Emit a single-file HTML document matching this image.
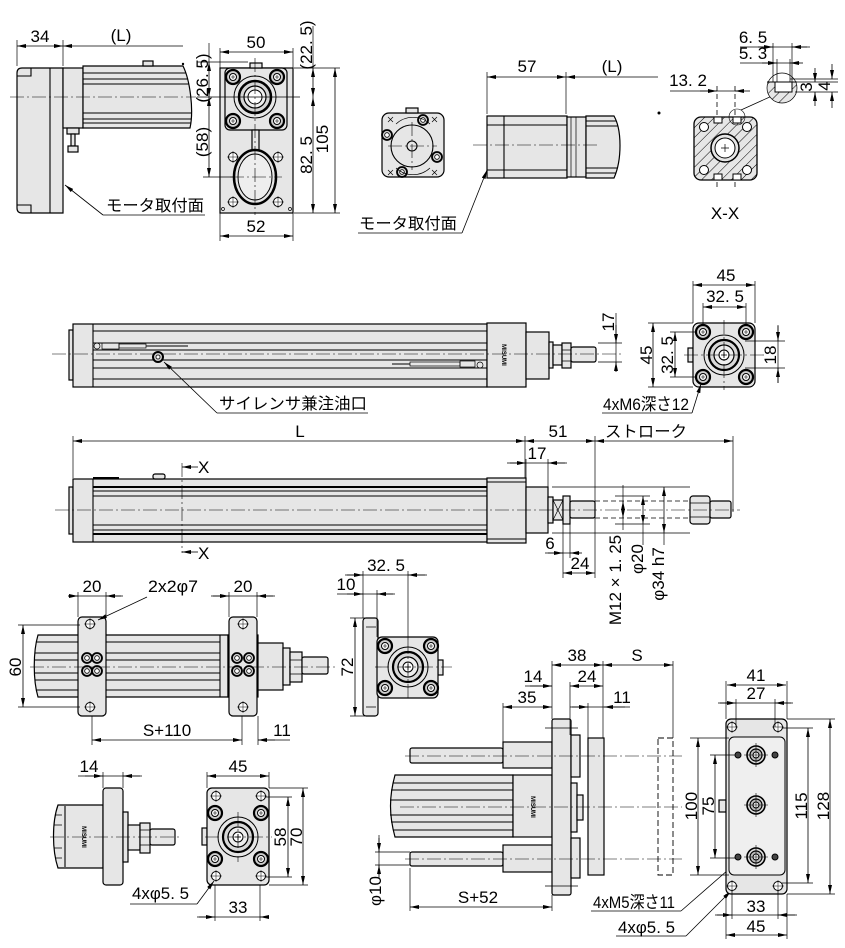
<!DOCTYPE html>
<html><head><meta charset="utf-8"><style>
html,body{margin:0;padding:0;background:#fff;}
svg{display:block;}
text{font-family:"Liberation Sans","Noto Sans CJK JP",sans-serif;font-size:17px;fill:#000;stroke:none;}
.j{font-size:16px;}
.mi{font-size:6px;font-weight:bold;}
.o{stroke:#000;stroke-width:1.2;fill:#e6e6e6;}
.l{stroke:#000;stroke-width:1.1;fill:none;}
.t{stroke:#000;stroke-width:.7;fill:none;}
.e{stroke:#000;stroke-width:.7;fill:none;}
.c{stroke:#000;stroke-width:.6;fill:none;stroke-dasharray:14 3 2 3;}
.dd{stroke:#000;stroke-width:.8;fill:none;stroke-dasharray:5 3;}
.d{stroke:#000;stroke-width:.8;fill:none;marker-start:url(#a);marker-end:url(#a);}
.m{stroke:#000;stroke-width:.8;fill:none;marker-end:url(#a);}
.s{stroke:#000;stroke-width:.8;fill:none;marker-start:url(#a);}
</style></head><body>
<svg width="845" height="948" viewBox="0 0 845 948" xmlns="http://www.w3.org/2000/svg">
<defs>
<marker id="a" viewBox="0 0 9 4" refX="9" refY="2" markerWidth="9" markerHeight="4" markerUnits="userSpaceOnUse" orient="auto-start-reverse"><path d="M0,0L9,2L0,4z" fill="#000"/></marker>
<pattern id="h" width="7" height="7" patternUnits="userSpaceOnUse" patternTransform="rotate(45)"><rect width="7" height="7" fill="#e6e6e6"/><line x1="0" y1="0" x2="0" y2="7" stroke="#000" stroke-width="1"/></pattern>
<g id="bolt"><circle r="7" fill="#cfcfcf" stroke="#000" stroke-width="2.2"/><circle r="3.5" fill="#fff" stroke="#000" stroke-width="1"/><path d="M-2,0H2M0,-2V2" stroke="#000" stroke-width=".6"/></g>
<g id="sbolt"><circle r="5" fill="#cfcfcf" stroke="#000" stroke-width="1.8"/><circle r="2.3" fill="#fff" stroke="#000" stroke-width=".8"/></g>
<g id="hole"><circle r="4.5" fill="#fff" stroke="#000" stroke-width="1"/><path d="M-6,0H6M0,-6V6" stroke="#000" stroke-width=".5"/></g>
<g id="dot"><circle r="3" fill="#444" stroke="#000" stroke-width="1"/></g>
<g id="bush"><circle r="9" fill="#ddd" stroke="#000" stroke-width="1.6"/><circle r="6" fill="#bbb" stroke="#000" stroke-width="1.2"/><circle r="3" fill="#fff" stroke="#000" stroke-width="1"/><path d="M-12,0H12M0,-12V12" stroke="#000" stroke-width=".6"/></g>
<g id="hub"><circle r="20" fill="#e6e6e6" stroke="#000" stroke-width="1"/><circle r="15" fill="#d8d8d8" stroke="#000" stroke-width="2.2"/><circle r="10" fill="#eee" stroke="#000" stroke-width="1.2"/><circle r="5" fill="#fff" stroke="#000" stroke-width="1"/><path d="M-3,0H3M0,-3V3" stroke="#000" stroke-width=".8"/></g>
<clipPath id="dc"><circle cx="782" cy="88" r="15"/></clipPath>
</defs>

<!-- ===== Section 1: motor side view ===== -->
<path class="o" d="M22,68H63V213H22Q17,213 17,208V73Q17,68 22,68Z"/>
<line class="l" x1="50" y1="68" x2="50" y2="213"/>
<path class="l" d="M17,76H31V68M17,205H31V213"/>
<rect class="o" x="63" y="68" width="20" height="60"/>
<path class="o" d="M83,66H183C190,80 194,110 190,128H83Z"/>
<path class="l" d="M83,73H186M83,79H188M83,84H189M83,113H192M83,119H191M83,123H191"/>
<rect class="o" x="143" y="61" width="10" height="5"/>
<circle cx="183" cy="64" r="1.2" fill="#000"/>
<rect class="o" x="67" y="128" width="12" height="6"/>
<rect class="o" x="71" y="134" width="4" height="12"/>
<rect class="o" x="68" y="146" width="10" height="6"/>
<line class="c" x1="10" y1="97" x2="196" y2="97"/>
<line class="e" x1="17" y1="40" x2="17" y2="66"/>
<line class="e" x1="63" y1="40" x2="63" y2="66"/>
<line class="d" x1="17" y1="46" x2="63" y2="46"/>
<line class="s" x1="63" y1="46" x2="183" y2="46"/>
<text x="40" y="42" text-anchor="middle">34</text>
<text x="121" y="41" text-anchor="middle">(L)</text>
<line class="s" x1="65" y1="185" x2="103" y2="215"/>
<line class="t" x1="103" y1="215" x2="205" y2="215"/>
<text class="j" x="106" y="211" textLength="98" lengthAdjust="spacingAndGlyphs">モータ取付面</text>

<!-- ===== Section 2: motor front plate ===== -->
<rect class="o" x="220" y="68" width="73" height="145"/>
<rect class="o" x="225" y="68" width="62" height="62" rx="5"/>
<rect class="o" x="250" y="63" width="12" height="5"/>
<circle cx="255" cy="97" r="21" fill="#e6e6e6" stroke="#000" stroke-width="1"/>
<circle cx="255" cy="97" r="16" fill="#d5d5d5" stroke="#000" stroke-width="2.5"/>
<circle cx="255" cy="97" r="11" fill="#eee" stroke="#000" stroke-width="1.2"/>
<circle cx="255" cy="97" r="7" fill="#fff" stroke="#000" stroke-width="1"/>
<use href="#bolt" x="233" y="77"/><use href="#bolt" x="277" y="77"/>
<use href="#bolt" x="233" y="121"/><use href="#bolt" x="277" y="121"/>
<rect class="o" x="252" y="130" width="7" height="20"/>
<ellipse cx="255" cy="177" rx="21" ry="27" fill="#e6e6e6" stroke="#000" stroke-width="2.5"/>
<ellipse cx="255" cy="177" rx="17" ry="23" fill="#eee" stroke="#000" stroke-width="1"/>
<use href="#hole" x="233" y="157"/><use href="#hole" x="278" y="157"/>
<use href="#hole" x="233" y="202"/><use href="#hole" x="278" y="202"/>
<circle class="t" cx="223" cy="209" r="1.5"/><circle class="t" cx="290" cy="209" r="1.5"/>
<line class="c" x1="255" y1="58" x2="255" y2="215"/>
<line class="c" x1="230" y1="177" x2="282" y2="177"/>
<line class="e" x1="197" y1="62" x2="248" y2="62"/>
<line class="e" x1="197" y1="97" x2="300" y2="97"/>
<line class="e" x1="203" y1="177" x2="235" y2="177"/>
<line class="t" x1="209" y1="43" x2="209" y2="62"/>
<line class="d" x1="209" y1="62" x2="209" y2="97"/>
<line class="d" x1="209" y1="97" x2="209" y2="177"/>
<text transform="translate(208,78) rotate(-90)" text-anchor="middle">(26. 5)</text>
<text transform="translate(208,142) rotate(-90)" text-anchor="middle">(58)</text>
<line class="e" x1="220" y1="48" x2="220" y2="68"/><line class="e" x1="293" y1="48" x2="293" y2="68"/>
<line class="d" x1="220" y1="52" x2="293" y2="52"/>
<text x="256" y="48" text-anchor="middle">50</text>
<line class="e" x1="220" y1="213" x2="220" y2="241"/><line class="e" x1="293" y1="213" x2="293" y2="241"/>
<line class="d" x1="220" y1="236" x2="293" y2="236"/>
<text x="256" y="232" text-anchor="middle">52</text>
<line class="e" x1="294" y1="68" x2="340" y2="68"/>
<line class="e" x1="294" y1="213" x2="340" y2="213"/>
<line class="t" x1="313" y1="26" x2="313" y2="68"/>
<line class="d" x1="313" y1="68" x2="313" y2="97"/>
<line class="d" x1="313" y1="97" x2="313" y2="213"/>
<line class="d" x1="335" y1="68" x2="335" y2="213"/>
<text transform="translate(312,45) rotate(-90)" text-anchor="middle">(22. 5)</text>
<text transform="translate(312,155) rotate(-90)" text-anchor="middle">82. 5</text>
<text transform="translate(328,139) rotate(-90)" text-anchor="middle">105</text>

<!-- ===== Section 3: motor end view ===== -->
<rect class="o" x="382" y="113" width="62" height="64" rx="7"/>
<rect class="o" x="406" y="108" width="12" height="5"/>
<circle class="l" cx="412" cy="146" r="21"/>
<circle class="l" cx="412" cy="146" r="5"/>
<line class="c" x1="388" y1="146" x2="437" y2="146"/>
<line class="c" x1="412" y1="122" x2="412" y2="170"/>
<use href="#sbolt" x="387" y="135"/><use href="#sbolt" x="423" y="120"/>
<use href="#sbolt" x="437" y="157"/><use href="#sbolt" x="402" y="172"/>
<path class="t" d="M388,117l5,5M393,117l-5,5M432,117l5,5M437,117l-5,5M388,170l5,5M393,170l-5,5M432,170l5,5M437,170l-5,5"/>
<path class="t" d="M396,124A25,25 0 0 1 430,124M430,168A25,25 0 0 1 396,168"/>

<!-- ===== Section 4: motor side right ===== -->
<rect class="o" x="487" y="116" width="80" height="62"/>
<path class="l" d="M504,116V178M487,125H567M487,170H567"/>
<rect class="o" x="567" y="117" width="19" height="60"/>
<path class="o" d="M586,116H614C622,130 622,160 614,178H586Z"/>
<path class="l" d="M586,121H616M586,126H618M586,168H618M586,173H616"/>
<path class="t" d="M571,117V177M576,117V177"/>
<line class="c" x1="473" y1="145" x2="600" y2="145"/>
<circle cx="659" cy="113" r="1.5" fill="#000"/>
<line class="e" x1="487" y1="72" x2="487" y2="114"/>
<line class="e" x1="566" y1="72" x2="566" y2="114"/>
<line class="d" x1="487" y1="77" x2="566" y2="77"/>
<line class="s" x1="566" y1="77" x2="658" y2="77"/>
<text x="527" y="72" text-anchor="middle">57</text>
<text x="612" y="72" text-anchor="middle">(L)</text>
<line class="s" x1="487" y1="170" x2="462" y2="233"/>
<line class="t" x1="358" y1="233" x2="462" y2="233"/>
<text class="j" x="359" y="229" textLength="98" lengthAdjust="spacingAndGlyphs">モータ取付面</text>

<!-- ===== Section 5: X-X ===== -->
<rect x="694" y="117" width="63" height="63" rx="7" fill="url(#h)" stroke="#000" stroke-width="1.3"/>
<circle cx="725" cy="148" r="14" fill="#e6e6e6" stroke="#000" stroke-width="1.5"/>
<circle cx="725" cy="148" r="10" fill="#fff" stroke="#000" stroke-width="1"/>
<path class="t" d="M721,148H729M725,144V152"/>
<circle cx="704" cy="127" r="4.5" fill="#fff" stroke="#000"/><circle cx="747" cy="127" r="4.5" fill="#fff" stroke="#000"/>
<circle cx="704" cy="170" r="4.5" fill="#fff" stroke="#000"/><circle cx="747" cy="170" r="4.5" fill="#fff" stroke="#000"/>
<rect x="714" y="117" width="8" height="6" fill="#fff" stroke="#000"/><rect x="733" y="117" width="8" height="6" fill="#fff" stroke="#000"/>
<rect x="714" y="174" width="8" height="6" fill="#fff" stroke="#000"/><rect x="733" y="174" width="8" height="6" fill="#fff" stroke="#000"/>
<circle cx="737" cy="117" r="8" fill="none" stroke="#000" stroke-width=".6"/>
<line class="t" x1="741" y1="110" x2="772" y2="96"/>
<g clip-path="url(#dc)"><rect x="767" y="82" width="31" height="25" fill="url(#h)"/><rect x="775" y="82" width="17" height="10" fill="#fff" stroke="#000"/></g>
<circle cx="782" cy="88" r="15" fill="none" stroke="#000" stroke-width=".7"/>
<line class="l" x1="767" y1="82" x2="797" y2="82"/>
<path class="dd" d="M717,86V115M735,86V115M717,182V190M735,182V190"/>
<line class="t" x1="670" y1="91" x2="743" y2="91"/>
<line class="m" x1="700" y1="91" x2="717" y2="91"/>
<line class="m" x1="750" y1="91" x2="735" y2="91"/>
<text x="688" y="86" text-anchor="middle">13. 2</text>
<path class="e" d="M773,43V82M792,43V82M777,59V82M790,59V82"/>
<line class="t" x1="740" y1="47" x2="810" y2="47"/>
<line class="m" x1="758" y1="47" x2="773" y2="47"/>
<line class="m" x1="807" y1="47" x2="792" y2="47"/>
<line class="t" x1="740" y1="63" x2="800" y2="63"/>
<line class="m" x1="762" y1="63" x2="777" y2="63"/>
<line class="m" x1="803" y1="63" x2="790" y2="63"/>
<text x="753" y="43" text-anchor="middle">6. 5</text>
<text x="753" y="59" text-anchor="middle">5. 3</text>
<path class="e" d="M795,82H838M795,92H838M790,79H838"/>
<line class="m" x1="815" y1="68" x2="815" y2="82"/>
<line class="m" x1="815" y1="106" x2="815" y2="92"/>
<line class="m" x1="832" y1="64" x2="832" y2="79"/>
<line class="m" x1="832" y1="108" x2="832" y2="92"/>
<text transform="translate(812,87) rotate(-90)" text-anchor="middle">3</text>
<text transform="translate(830,86) rotate(-90)" text-anchor="middle">4</text>
<text x="725" y="219" text-anchor="middle">X-X</text>

<!-- ===== Section 6: middle actuator ===== -->
<rect class="o" x="69" y="330" width="4" height="50"/>
<rect class="o" x="73" y="324" width="414" height="63"/>
<line class="l" x1="93" y1="324" x2="93" y2="387"/>
<path class="l" d="M93,331H487M93,343H487M93,350H487M93,360H487M93,368H487M93,379H487"/>
<rect class="o" x="487" y="323" width="39" height="64"/>
<text class="mi" transform="translate(502,355) rotate(90)" text-anchor="middle">MISUMI</text>
<rect class="o" x="526" y="332" width="23" height="47"/>
<rect class="o" x="549" y="342" width="4" height="26"/>
<rect class="o" x="553" y="345" width="9" height="20"/>
<rect class="o" x="562" y="343" width="9" height="25"/>
<path class="t" d="M562,350H571M562,361H571"/>
<rect class="o" x="571" y="347" width="25" height="15" rx="2"/>
<line class="c" x1="52" y1="354" x2="622" y2="354"/>
<circle cx="158" cy="357" r="5" fill="#ccc" stroke="#000" stroke-width="2"/>
<circle cx="158" cy="357" r="2" fill="#fff" stroke="#000" stroke-width=".8"/>
<circle class="t" cx="97" cy="346" r="3"/>
<rect class="t" x="102" y="343" width="17" height="6"/>
<rect class="t" x="119" y="344" width="27" height="4"/>
<line class="l" x1="146" y1="346" x2="188" y2="346"/>
<line class="l" x1="392" y1="364" x2="410" y2="364"/>
<rect class="t" x="410" y="362" width="50" height="4"/>
<rect class="t" x="460" y="361" width="15" height="6"/>
<circle class="t" cx="480" cy="365" r="3"/>
<line class="s" x1="164" y1="362" x2="217" y2="413"/>
<line class="t" x1="217" y1="413" x2="368" y2="413"/>
<text class="j" x="219" y="409" textLength="148" lengthAdjust="spacingAndGlyphs">サイレンサ兼注油口</text>
<path class="e" d="M598,343H622M598,362H622"/>
<line class="t" x1="616" y1="313" x2="616" y2="366"/>
<line class="m" x1="616" y1="325" x2="616" y2="343"/>
<line class="m" x1="616" y1="372" x2="616" y2="362"/>
<text transform="translate(614,322) rotate(-90)" text-anchor="middle">17</text>

<!-- side square -->
<rect class="o" x="688" y="348" width="5" height="14"/>
<rect class="o" x="693" y="323" width="62" height="64" rx="6"/>
<use href="#hub" x="724" y="355"/>
<line class="c" x1="724" y1="320" x2="724" y2="390"/>
<line class="c" x1="684" y1="355" x2="766" y2="355"/>
<use href="#bolt" x="703" y="332"/><use href="#bolt" x="746" y="332"/>
<use href="#bolt" x="703" y="377"/><use href="#bolt" x="746" y="377"/>
<path class="e" d="M693,281V323M755,281V323M703,303V325M746,303V325"/>
<line class="d" x1="693" y1="285" x2="755" y2="285"/>
<line class="d" x1="703" y1="307" x2="746" y2="307"/>
<text x="726" y="281" text-anchor="middle">45</text>
<text x="725" y="302" text-anchor="middle">32. 5</text>
<path class="e" d="M648,323H693M648,387H693M670,332H697M670,377H697"/>
<line class="d" x1="653" y1="323" x2="653" y2="387"/>
<line class="d" x1="675" y1="332" x2="675" y2="377"/>
<text transform="translate(652,355) rotate(-90)" text-anchor="middle">45</text>
<text transform="translate(673,355) rotate(-90)" text-anchor="middle">32. 5</text>
<path class="e" d="M745,341H785M745,368H785"/>
<line class="t" x1="778" y1="325" x2="778" y2="383"/>
<line class="m" x1="778" y1="326" x2="778" y2="341"/>
<line class="m" x1="778" y1="383" x2="778" y2="368"/>
<text transform="translate(776,355) rotate(-90)" text-anchor="middle">18</text>
<line class="s" x1="701" y1="384" x2="692" y2="413"/>
<line class="t" x1="602" y1="413" x2="692" y2="413"/>
<text x="603" y="410" textLength="86" lengthAdjust="spacingAndGlyphs">4xM6深さ12</text>

<!-- ===== Section 7: bottom actuator ===== -->
<line class="e" x1="73" y1="436" x2="73" y2="478"/>
<line class="e" x1="525" y1="436" x2="525" y2="478"/>
<line class="e" x1="595" y1="436" x2="595" y2="578"/>
<line class="e" x1="733" y1="436" x2="733" y2="512"/>
<line class="d" x1="73" y1="441" x2="525" y2="441"/>
<line class="d" x1="525" y1="441" x2="595" y2="441"/>
<line class="d" x1="595" y1="441" x2="733" y2="441"/>
<text x="300" y="437" text-anchor="middle">L</text>
<text x="558" y="437" text-anchor="middle">51</text>
<text class="j" x="605" y="437" textLength="82" lengthAdjust="spacingAndGlyphs">ストローク</text>
<rect class="o" x="69" y="487" width="4" height="47"/>
<rect class="o" x="73" y="479" width="414" height="63"/>
<line class="l" x1="93" y1="479" x2="93" y2="542"/>
<path class="l" d="M93,487H487M93,491H487M93,496H487M93,525H487M93,530H487M93,534H487"/>
<path d="M93,487H487M93,534H487" stroke="#000" stroke-width="2"/>
<rect class="o" x="153" y="474" width="12" height="5" rx="2"/>
<line x1="93" y1="478" x2="119" y2="478" stroke="#000" stroke-width="2"/>
<rect class="o" x="487" y="478" width="39" height="65"/>
<path class="l" d="M487,482H526M487,539H526"/>
<rect class="o" x="526" y="487" width="22" height="46"/>
<rect class="o" x="548" y="497" width="5" height="26"/>
<rect class="o" x="553" y="500" width="10" height="20"/>
<path class="t" d="M553,500L563,520M563,500L553,520"/>
<rect class="o" x="563" y="496" width="7" height="28"/>
<rect class="o" x="570" y="501" width="25" height="17" rx="2"/>
<path class="t" d="M552,487H690M552,533H690"/>
<path class="dd" d="M595,501H690M595,518H690"/>
<rect class="o" x="690" y="496" width="20" height="28" rx="3"/>
<path class="t" d="M690,503H710M690,517H710"/>
<rect class="o" x="710" y="501" width="21" height="17" rx="2"/>
<line class="c" x1="55" y1="510" x2="740" y2="510"/>
<line class="c" x1="182" y1="463" x2="182" y2="553"/>
<line class="m" x1="198" y1="467" x2="182" y2="467"/>
<line class="m" x1="198" y1="552" x2="182" y2="552"/>
<text x="198" y="473">X</text>
<text x="198" y="559">X</text>
<path class="e" d="M526,459V478M548,459V487"/>
<line class="t" x1="507" y1="463" x2="567" y2="463"/>
<line class="m" x1="510" y1="463" x2="526" y2="463"/>
<line class="m" x1="565" y1="463" x2="548" y2="463"/>
<text x="537" y="459" text-anchor="middle">17</text>
<path class="e" d="M563,524V578M570,524V558"/>
<line class="t" x1="545" y1="553" x2="580" y2="553"/>
<line class="m" x1="548" y1="553" x2="563" y2="553"/>
<line class="m" x1="582" y1="553" x2="570" y2="553"/>
<text x="550" y="549" text-anchor="middle">6</text>
<line class="d" x1="563" y1="573" x2="595" y2="573"/>
<text x="580" y="569" text-anchor="middle">24</text>
<line class="d" x1="623" y1="501" x2="623" y2="518"/>
<line class="t" x1="623" y1="485" x2="623" y2="530"/>
<line class="d" x1="643" y1="496" x2="643" y2="524"/>
<line class="t" x1="643" y1="524" x2="643" y2="545"/>
<line class="d" x1="664" y1="487" x2="664" y2="533"/>
<line class="t" x1="664" y1="533" x2="664" y2="545"/>
<path class="e" d="M615,496H650M615,524H650"/>
<text transform="translate(621,580) rotate(-90)" text-anchor="middle">M12 × 1. 25</text>
<text transform="translate(643,559) rotate(-90)" text-anchor="middle">φ20</text>
<text transform="translate(664,574) rotate(-90)" text-anchor="middle">φ34 h7</text>

<!-- ===== Section 8: foot mount ===== -->
<path class="o" d="M38,635H228V697H38C33,680 33,652 38,635Z"/>
<path class="l" d="M36,642H220M35,653H220M35,660H220M35,673H220M35,680H220M36,690H220M220,635V697"/>
<rect class="o" x="228" y="635" width="30" height="62"/>
<rect class="o" x="258" y="643" width="25" height="47"/>
<rect class="o" x="283" y="648" width="7" height="37"/>
<rect class="o" x="290" y="652" width="12" height="30"/>
<path class="t" d="M290,660H302M290,674H302"/>
<rect class="o" x="302" y="657" width="26" height="17" rx="2"/>
<rect class="o" x="78" y="617" width="28" height="99" rx="4"/>
<rect class="o" x="229" y="617" width="28" height="99" rx="4"/>
<use href="#hole" x="90" y="624"/><use href="#hole" x="90" y="707"/>
<use href="#hole" x="243" y="624"/><use href="#hole" x="243" y="707"/>
<use href="#sbolt" x="87" y="658"/><use href="#sbolt" x="97" y="658"/>
<use href="#sbolt" x="87" y="671"/><use href="#sbolt" x="97" y="671"/>
<use href="#sbolt" x="237" y="658"/><use href="#sbolt" x="249" y="658"/>
<use href="#sbolt" x="237" y="671"/><use href="#sbolt" x="249" y="671"/>
<line class="c" x1="30" y1="667" x2="335" y2="667"/>
<path class="e" d="M78,592V617M106,592V617M229,592V617M257,592V617"/>
<line class="t" x1="68" y1="596" x2="123" y2="596"/>
<line class="m" x1="68" y1="596" x2="78" y2="596"/>
<line class="m" x1="121" y1="596" x2="106" y2="596"/>
<line class="t" x1="211" y1="596" x2="275" y2="596"/>
<line class="m" x1="213" y1="596" x2="229" y2="596"/>
<line class="m" x1="273" y1="596" x2="257" y2="596"/>
<text x="92" y="592" text-anchor="middle">20</text>
<text x="243" y="592" text-anchor="middle">20</text>
<text x="148" y="592" textLength="50" lengthAdjust="spacingAndGlyphs">2x2φ7</text>
<line class="m" x1="147" y1="597" x2="98" y2="620"/>
<path class="e" d="M18,625H80M18,707H80"/>
<line class="d" x1="23" y1="625" x2="23" y2="707"/>
<text transform="translate(21,667) rotate(-90)" text-anchor="middle">60</text>
<path class="e" d="M92,716V745M242,716V745M258,716V745"/>
<line class="d" x1="92" y1="740" x2="242" y2="740"/>
<line class="t" x1="258" y1="740" x2="290" y2="740"/>
<line class="m" x1="275" y1="740" x2="258" y2="740"/>
<text x="167" y="736" text-anchor="middle">S+110</text>
<text x="282" y="736" text-anchor="middle">11</text>

<!-- foot side view -->
<rect class="o" x="363" y="618" width="15" height="98" rx="3"/>
<path class="t" d="M366,627H376M366,707H376"/>
<rect class="o" x="438" y="660" width="5" height="15"/>
<rect class="o" x="377" y="637" width="61" height="61" rx="5"/>
<use href="#hub" x="408" y="667"/>
<line class="c" x1="408" y1="640" x2="408" y2="700"/>
<line class="c" x1="375" y1="667" x2="452" y2="667"/>
<use href="#bolt" x="385" y="646"/><use href="#bolt" x="431" y="646"/>
<use href="#bolt" x="385" y="688"/><use href="#bolt" x="431" y="688"/>
<path class="e" d="M363,571V618M408,571V640M377,590V637"/>
<line class="t" x1="345" y1="575" x2="427" y2="575"/>
<line class="m" x1="347" y1="575" x2="363" y2="575"/>
<line class="m" x1="425" y1="575" x2="408" y2="575"/>
<text x="386" y="571" text-anchor="middle">32. 5</text>
<line class="t" x1="337" y1="594" x2="395" y2="594"/>
<line class="m" x1="347" y1="594" x2="363" y2="594"/>
<line class="m" x1="393" y1="594" x2="377" y2="594"/>
<text x="346" y="590" text-anchor="middle">10</text>
<path class="e" d="M350,618H365M350,716H365"/>
<line class="d" x1="355" y1="618" x2="355" y2="716"/>
<text transform="translate(353,667) rotate(-90)" text-anchor="middle">72</text>

<!-- ===== Section 9: flange mount ===== -->
<path class="e" d="M103,772V788M123,772V788"/>
<line class="t" x1="78" y1="776" x2="142" y2="776"/>
<line class="m" x1="85" y1="776" x2="103" y2="776"/>
<line class="m" x1="140" y1="776" x2="123" y2="776"/>
<text x="89" y="772" text-anchor="middle">14</text>
<path class="o" d="M58,805H103V868H58C52,850 52,822 58,805Z"/>
<line class="l" x1="65" y1="806" x2="65" y2="867"/>
<path class="t" d="M55,815H62M54,825H62M54,848H62M55,858H62"/>
<text class="mi" transform="translate(82,837) rotate(90)" text-anchor="middle">MISUMI</text>
<rect class="o" x="103" y="788" width="20" height="97" rx="3"/>
<rect class="o" x="123" y="812" width="5" height="50"/>
<rect class="o" x="128" y="825" width="12" height="25"/>
<rect class="o" x="140" y="823" width="10" height="30"/>
<path class="t" d="M140,830H150M140,845H150"/>
<rect class="o" x="150" y="829" width="25" height="16" rx="2"/>
<line class="c" x1="50" y1="837" x2="182" y2="837"/>

<rect class="o" x="202" y="828" width="5" height="17"/>
<rect class="o" x="207" y="788" width="62" height="97" rx="5"/>
<use href="#hub" x="238" y="837"/>
<line class="c" x1="238" y1="812" x2="238" y2="862"/>
<line class="c" x1="205" y1="837" x2="272" y2="837"/>
<use href="#bolt" x="215" y="813"/><use href="#bolt" x="261" y="813"/>
<use href="#bolt" x="215" y="859"/><use href="#bolt" x="261" y="859"/>
<use href="#hole" x="216" y="796"/><use href="#hole" x="261" y="796"/>
<use href="#hole" x="216" y="876"/><use href="#hole" x="261" y="876"/>
<path class="e" d="M207,772V788M269,772V788"/>
<line class="d" x1="207" y1="776" x2="269" y2="776"/>
<text x="238" y="772" text-anchor="middle">45</text>
<path class="e" d="M265,797H292M265,877H292M269,788H308M269,885H308"/>
<line class="d" x1="288" y1="797" x2="288" y2="877"/>
<line class="d" x1="303" y1="788" x2="303" y2="885"/>
<text transform="translate(286,837) rotate(-90)" text-anchor="middle">58</text>
<text transform="translate(302,837) rotate(-90)" text-anchor="middle">70</text>
<text x="132" y="899" textLength="57" lengthAdjust="spacingAndGlyphs">4xφ5. 5</text>
<line class="t" x1="130" y1="904" x2="197" y2="904"/>
<line class="m" x1="197" y1="904" x2="214" y2="881"/>
<path class="e" d="M215,885V921M260,885V921"/>
<line class="t" x1="197" y1="917" x2="268" y2="917"/>
<line class="m" x1="199" y1="917" x2="215" y2="917"/>
<line class="m" x1="268" y1="917" x2="260" y2="917"/>
<text x="238" y="913" text-anchor="middle">33</text>

<!-- ===== Section 10: guided ===== -->
<rect class="o" x="410" y="748" width="93" height="15" rx="2"/>
<rect class="o" x="410" y="852" width="93" height="14" rx="2"/>
<rect class="o" x="503" y="742" width="49" height="26"/>
<rect class="o" x="503" y="845" width="49" height="27"/>
<path class="o" d="M395,775H513V837H395C389,815 389,797 395,775Z"/>
<path class="l" d="M393,783H513M391,790H513M390,800H513M390,815H513M391,822H513M393,830H513"/>
<rect class="o" x="513" y="775" width="39" height="62"/>
<text class="mi" transform="translate(531,807) rotate(90)" text-anchor="middle">MISUMI</text>
<rect class="o" x="552" y="719" width="19" height="176" rx="2"/>
<rect class="o" x="571" y="735" width="9" height="42"/>
<rect class="o" x="571" y="838" width="9" height="40"/>
<rect class="o" x="571" y="783" width="6" height="49"/>
<rect class="o" x="577" y="795" width="6" height="25"/>
<rect class="o" x="588" y="738" width="16" height="137"/>
<rect x="658" y="738" width="15" height="137" fill="none" stroke="#000" stroke-width=".9" stroke-dasharray="6 3"/>
<path class="t" d="M545,728H578M545,886H578"/>
<line class="c" x1="405" y1="756" x2="682" y2="756"/>
<line class="c" x1="400" y1="807" x2="682" y2="807"/>
<line class="c" x1="405" y1="859" x2="682" y2="859"/>
<path class="e" d="M503,703V748M552,661V719M570,682V735M588,703V738M603,661V738M673,661V738"/>
<line class="d" x1="552" y1="665" x2="603" y2="665"/>
<line class="d" x1="603" y1="665" x2="673" y2="665"/>
<text x="577" y="661" text-anchor="middle">38</text>
<text x="637" y="661" text-anchor="middle">S</text>
<line class="t" x1="525" y1="686" x2="552" y2="686"/>
<line class="m" x1="530" y1="686" x2="552" y2="686"/>
<text x="533" y="682" text-anchor="middle">14</text>
<line class="d" x1="570" y1="686" x2="603" y2="686"/>
<text x="587" y="682" text-anchor="middle">24</text>
<line class="d" x1="503" y1="707" x2="552" y2="707"/>
<text x="527" y="703" text-anchor="middle">35</text>
<line class="t" x1="570" y1="707" x2="630" y2="707"/>
<line class="m" x1="572" y1="707" x2="588" y2="707"/>
<line class="m" x1="625" y1="707" x2="604" y2="707"/>
<text x="622" y="703" text-anchor="middle">11</text>
<path class="e" d="M375,852H410M375,865H410"/>
<line class="t" x1="379" y1="835" x2="379" y2="875"/>
<line class="m" x1="379" y1="838" x2="379" y2="852"/>
<line class="m" x1="379" y1="878" x2="379" y2="865"/>
<text transform="translate(381,891) rotate(-90)" text-anchor="middle">φ10</text>
<path class="e" d="M410,868V911M552,895V911"/>
<line class="d" x1="410" y1="907" x2="552" y2="907"/>
<text x="478" y="903" text-anchor="middle">S+52</text>
<text x="593" y="908" textLength="82" lengthAdjust="spacingAndGlyphs">4xM5深さ11</text>
<line class="t" x1="591" y1="911" x2="681" y2="911"/>
<line class="m" x1="681" y1="911" x2="736" y2="863"/>
<text x="618" y="933" textLength="57" lengthAdjust="spacingAndGlyphs">4xφ5. 5</text>
<line class="t" x1="616" y1="936" x2="686" y2="936"/>
<line class="m" x1="686" y1="936" x2="731" y2="891"/>

<!-- front plate -->
<rect class="o" x="719" y="800" width="7" height="12"/>
<rect class="o" x="726" y="719" width="61" height="175" rx="5"/>
<rect x="729" y="737" width="56" height="138" rx="5" fill="#efefef" stroke="#000" stroke-width="1"/>
<use href="#hole" x="732" y="727"/><use href="#hole" x="778" y="727"/>
<use href="#hole" x="732" y="886"/><use href="#hole" x="778" y="886"/>
<use href="#bush" x="756" y="755"/><use href="#bush" x="756" y="805"/><use href="#bush" x="756" y="857"/>
<use href="#dot" x="738" y="755"/><use href="#dot" x="775" y="755"/>
<use href="#dot" x="738" y="857"/><use href="#dot" x="775" y="857"/>
<path class="e" d="M726,681V719M787,681V719M736,699V727M775,699V727"/>
<line class="d" x1="727" y1="685" x2="786" y2="685"/>
<text x="756" y="681" text-anchor="middle">41</text>
<line class="t" x1="718" y1="703" x2="793" y2="703"/>
<line class="m" x1="720" y1="703" x2="736" y2="703"/>
<line class="m" x1="791" y1="703" x2="775" y2="703"/>
<text x="756" y="699" text-anchor="middle">27</text>
<path class="e" d="M690,738H729M690,875H729M710,755H735M710,858H735"/>
<line class="d" x1="698" y1="738" x2="698" y2="875"/>
<line class="d" x1="715" y1="755" x2="715" y2="858"/>
<text transform="translate(697,806) rotate(-90)" text-anchor="middle">100</text>
<text transform="translate(714,806) rotate(-90)" text-anchor="middle">75</text>
<path class="e" d="M782,728H813M782,883H813M787,719H835M787,894H835"/>
<line class="d" x1="808" y1="728" x2="808" y2="883"/>
<line class="d" x1="830" y1="719" x2="830" y2="894"/>
<text transform="translate(807,806) rotate(-90)" text-anchor="middle">115</text>
<text transform="translate(829,806) rotate(-90)" text-anchor="middle">128</text>
<path class="e" d="M732,890V919M778,890V919M726,894V939M787,894V939"/>
<line class="t" x1="715" y1="915" x2="797" y2="915"/>
<line class="m" x1="717" y1="915" x2="732" y2="915"/>
<line class="m" x1="795" y1="915" x2="778" y2="915"/>
<text x="756" y="912" text-anchor="middle">33</text>
<line class="d" x1="726" y1="935" x2="787" y2="935"/>
<text x="756" y="932" text-anchor="middle">45</text>
</svg>
</body></html>
